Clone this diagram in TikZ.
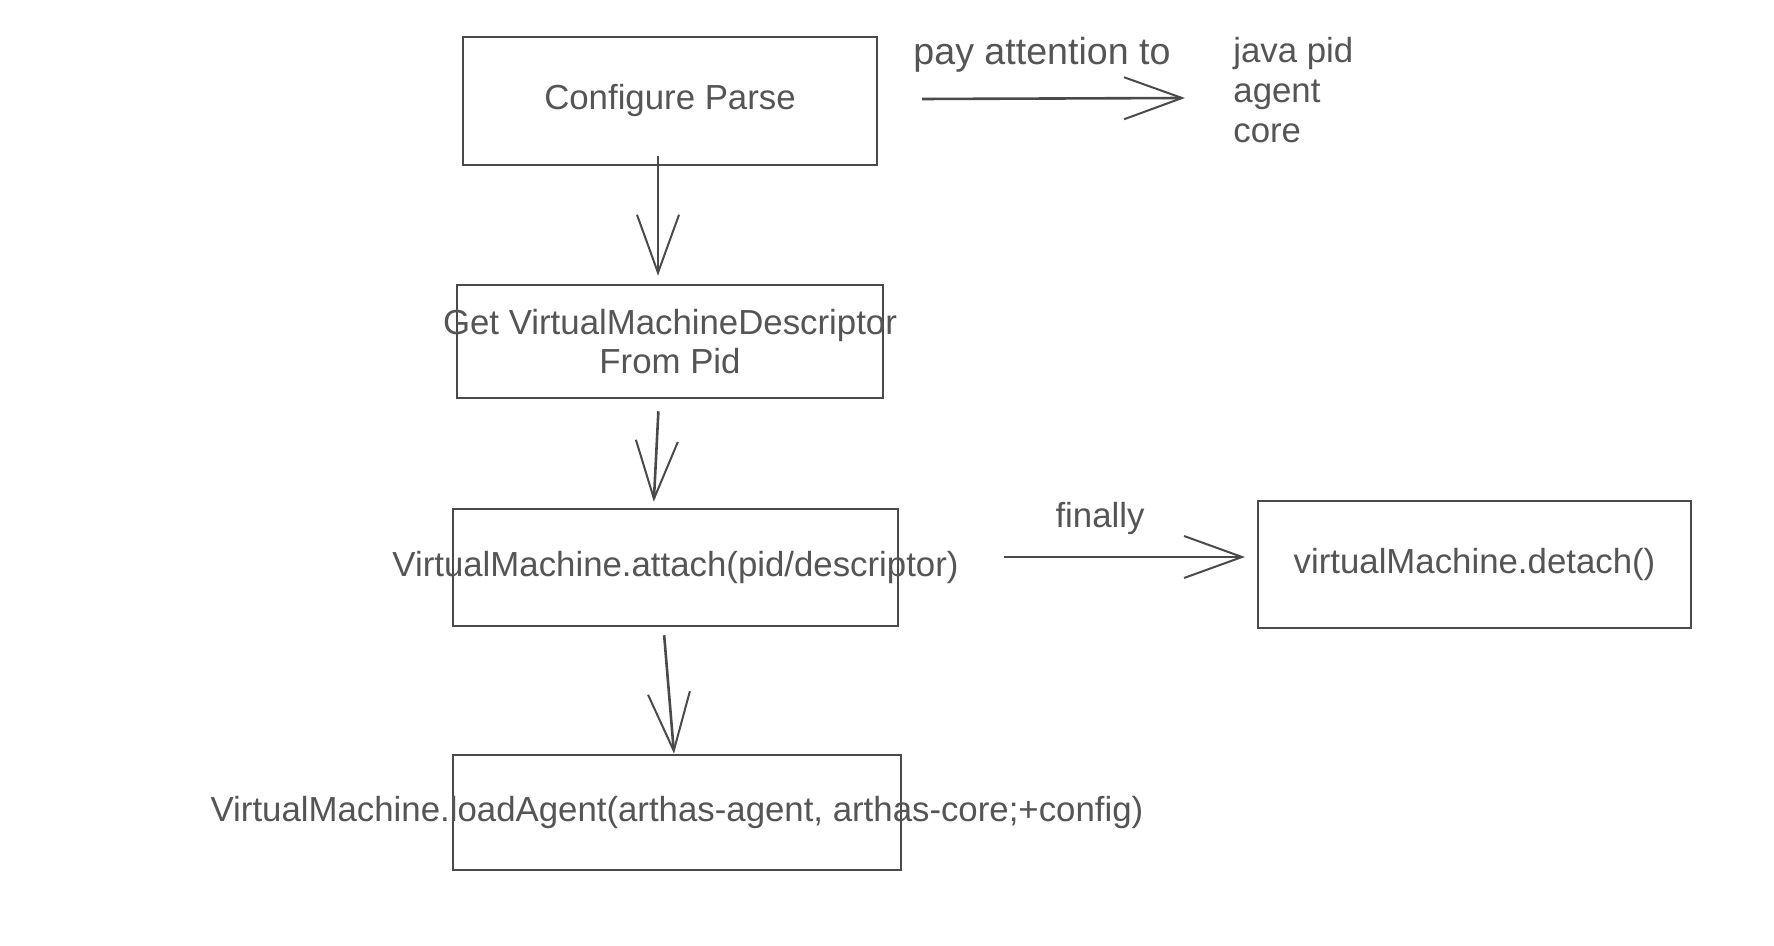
\documentclass[tikz,border=0pt]{standalone}
\usepackage{fontspec}
\setmainfont{Liberation Sans}
\usetikzlibrary{arrows.meta}
\definecolor{ink}{HTML}{4A4A4A}
\definecolor{txt}{HTML}{555555}
\begin{document}
\begin{tikzpicture}[x=0.5pt,y=-0.5pt,
  stepbox/.style={draw=ink, line width=1.3pt, rectangle, inner sep=0pt,
    text=txt, font=\fontsize{17.4}{19.5}\selectfont, align=center},
  lbl/.style={text=txt, font=\fontsize{17.4}{20}\selectfont, inner sep=0pt},
  flow/.style={draw=ink, line width=1.3pt,
    -{Straight Barb[length=29pt,width=21pt,line width=1pt]}}]
\useasboundingbox[fill=white] (0,0) rectangle (1774,946);

\node[stepbox, minimum width=207pt, minimum height=64pt] (cfg) at (670,101)
  {\makebox[0pt]{Configure Parse}};
\node[stepbox, minimum width=213pt, minimum height=56.5pt] (get) at (670,341.5)
  {\makebox[0pt]{Get VirtualMachineDescriptor}\\\makebox[0pt]{From Pid}};
\node[stepbox, minimum width=222.5pt, minimum height=58.5pt] (attach) at (675.5,567.5)
  {\makebox[0pt]{VirtualMachine.attach(pid/descriptor)}};
\node[stepbox, minimum width=224pt, minimum height=57.5pt] (load) at (677,812.5)
  {\makebox[0pt]{VirtualMachine.loadAgent(arthas-agent, arthas-core;+config)}};
\node[stepbox, minimum width=216.5pt, minimum height=63.5pt] (detach) at (1474.5,564.5)
  {\makebox[0pt]{virtualMachine.detach()}};

\node[lbl, font=\fontsize{18.8}{20}\selectfont] (pay) at (1042,55) {pay attention to};
\node[lbl, anchor=west, align=left] (java) at (1233,90) {java pid\\agent\\core};
\node[lbl] (fin) at (1100,519) {finally};

\coordinate (p1) at (922,99);
\coordinate (p2) at (1185,98);
\coordinate (f1) at (1004,557);
\coordinate (f2) at (1245,557);

\draw[flow, shorten <=-5pt, shorten >=4pt] ([xshift=-6pt]cfg.south) -- ([xshift=-6pt]get.north);
\draw[flow, shorten <=6pt, shorten >=3pt] ([xshift=-5.5pt]get.south) -- ([xshift=-11pt]attach.north);
\draw[flow, shorten <=4pt] ([xshift=-6pt]attach.south) -- ([xshift=-1.5pt]load.north);
\draw[flow] (p1) -- (p2);
\draw[flow] (f1) -- (f2);
\end{tikzpicture}
\end{document}
